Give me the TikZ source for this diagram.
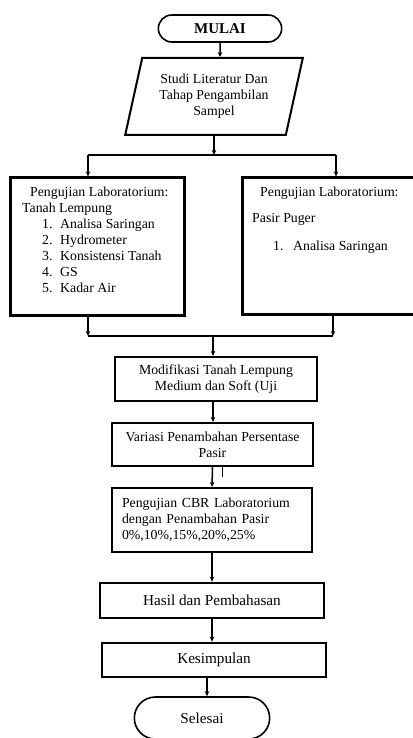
\documentclass[tikz,border=0pt]{standalone}
\usepackage{fontspec}
\setmainfont{Liberation Serif}
\usetikzlibrary{shapes.geometric,shapes.misc,arrows.meta}
\tikzset{
  box/.style={draw, line width=2.2pt, align=center, inner sep=2pt,
    font=\fontsize{13.8}{16}\selectfont},
  bigbox/.style={box, line width=2.6pt, font=\fontsize{15.2}{17}\selectfont},
  labbox/.style={draw, line width=3pt},
  labtext/.style={anchor=north west, align=left, inner sep=0pt,
    font=\fontsize{13.8}{16}\selectfont},
  terminal/.style={draw, rounded rectangle, line width=1.6pt,
    font=\fontsize{15.2}{17}\selectfont},
  parbox/.style={draw, trapezium, trapezium left angle=75, trapezium right angle=105,
    trapezium stretches=true, line width=2pt, align=center,
    font=\fontsize{13.8}{16}\selectfont},
  line/.style={line width=1.5pt}
}
\begin{document}
\begin{tikzpicture}[x=1pt,y=-1pt,>={Stealth[length=5pt,width=4.5pt]}]
    \useasboundingbox (0,0) rectangle (412,738);
    \node [terminal, minimum width=130pt, minimum height=27pt,
      font=\bfseries\fontsize{15}{17}\selectfont] (mulai) at (220,28.5) {MULAI};
    \node [parbox, minimum width=178pt, minimum height=77pt] (studi) at (214,96.5)
      {Studi Literatur Dan\\Tahap Pengambilan\\Sampel};
    \node [labbox, minimum width=174pt, minimum height=137pt] (labA) at (97,246.5) {};
    \node [labbox, minimum width=188pt, minimum height=136pt] (labB) at (336,246) {};
    \node [labtext] (labAtext) at (22,187) {\hspace*{8pt}Pengujian Laboratorium:\\
      Tanah Lempung\\
      \hspace*{20pt}\makebox[18pt][l]{1.}Analisa Saringan\\
      \hspace*{20pt}\makebox[18pt][l]{2.}Hydrometer\\
      \hspace*{20pt}\makebox[18pt][l]{3.}Konsistensi Tanah\\
      \hspace*{20pt}\makebox[18pt][l]{4.}GS\\
      \hspace*{20pt}\makebox[18pt][l]{5.}Kadar Air};
    \node [labtext] (labBtext) at (252,187) {\hspace*{8pt}Pengujian Laboratorium:\\[10pt]
      Pasir Puger\\[12pt]
      \hspace*{21pt}\makebox[20pt][l]{1.}Analisa Saringan};
    \node [box, minimum width=202pt, minimum height=44pt] (modif) at (216,379)
      {Modifikasi Tanah Lempung\\Medium dan Soft (Uji};
    \node [box, minimum width=201pt, minimum height=43pt] (variasi) at (212.5,444.5)
      {Variasi Penambahan Persentase\\Pasir};
    \node [box, minimum width=200pt, minimum height=64pt, text width=180pt,
      inner xsep=10pt, align=left] (cbr) at (212,520)
      {Pengujian CBR Laboratorium\\dengan Penambahan Pasir\\0\%,10\%,15\%,20\%,25\%};
    \node [bigbox, minimum width=224pt, minimum height=35pt] (hasil) at (212,600.5)
      {Hasil dan Pembahasan};
    \node [bigbox, minimum width=224pt, minimum height=34pt] (kesimpulan) at (214,660)
      {Kesimpulan};
    \node [terminal, minimum width=142pt, minimum height=42pt] (selesai) at (202,718)
      {Selesai};
    \coordinate (splitL) at (88,155);
    \coordinate (splitR) at (336,155);
    \coordinate (joinL) at (88,336);
    \coordinate (joinR) at (333,336);
    \coordinate (join) at (213,336);
    \draw [line, ->] (mulai) -- (mulai |- studi.north);
    \draw [line, ->] (studi.south) -- (studi.south |- splitL);
    \draw [line] (splitL) -- (splitR);
    \draw [line, ->] (splitL) -- (splitL |- labA.north);
    \draw [line, ->] (splitR) -- (splitR |- labB.north);
    \draw [line, ->] (joinL |- labA.south) -- (joinL);
    \draw [line, ->] (joinR |- labB.south) -- (joinR);
    \draw [line] (joinL) -- (joinR);
    \draw [line, ->] (join) -- (join |- modif.north);
    \draw [line, ->] (join |- modif.south) -- (join |- variasi.north);
    \draw [line, ->] (variasi.south) -- (cbr.north);
    \draw [line] ([xshift=10pt]variasi.south) -- ++(0,10);
    \draw [line, ->] (cbr.south) -- (cbr.south |- hasil.north);
    \draw [line, ->] (hasil.south) -- (hasil.south |- kesimpulan.north);
    \draw [line, ->] ([xshift=5pt]selesai.north |- kesimpulan.south) -- ([xshift=5pt]selesai.north);
\end{tikzpicture}
\end{document}
